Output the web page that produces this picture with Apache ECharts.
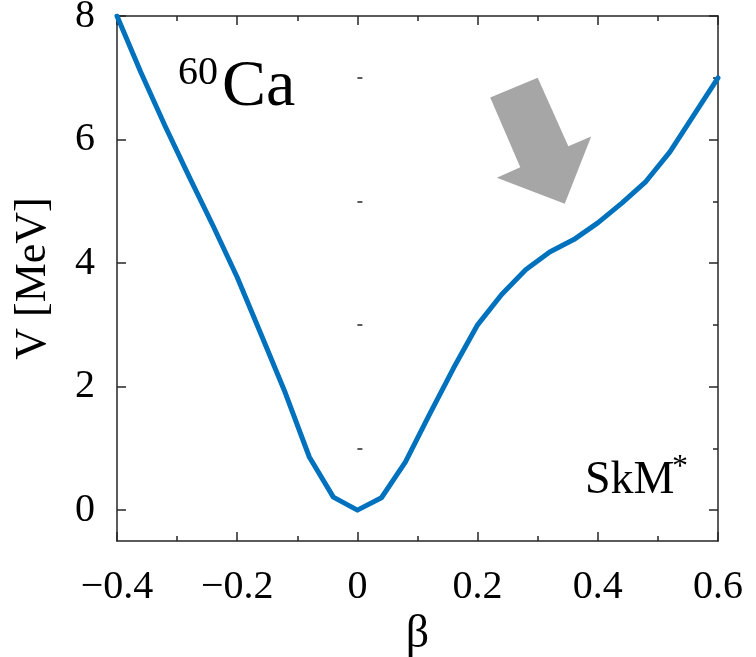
<!DOCTYPE html>
<html>
<head>
<meta charset="utf-8">
<script src="https://cdn.jsdelivr.net/npm/echarts@6/dist/echarts.min.js"></script>
<style>
  html, body { margin: 0; padding: 0; background: #fff; }
  #chart { width: 756px; height: 657px; }
</style>
</head>
<body>
<div id="chart"></div>
<script>
// Deformation energy curve of 60Ca (SkM*)
const beta = [-0.40, -0.36, -0.32, -0.28, -0.24, -0.20, -0.16, -0.12, -0.08, -0.04,
              0.00, 0.04, 0.08, 0.12, 0.16, 0.20, 0.24, 0.28, 0.32, 0.36,
              0.40, 0.44, 0.48, 0.52, 0.56, 0.60];
const energy = [8.00, 7.08, 6.22, 5.40, 4.60, 3.77, 2.84, 1.90, 0.86, 0.21,
                0.00, 0.20, 0.78, 1.55, 2.30, 3.00, 3.49, 3.89, 4.18, 4.38,
                4.65, 4.97, 5.32, 5.80, 6.40, 7.00];

const yMajorTicks = [0, 2, 4, 6, 8];
const yMinorTicks = [1, 3, 5, 7];

// Block arrow pointing at the shoulder, vertices in (beta, V) coordinates
const arrowBeta = [0.221, 0.300, 0.351, 0.389, 0.345, 0.232, 0.271];
const arrowV    = [6.68, 7.00, 5.89, 6.05, 4.96, 5.38, 5.55];

const serif = '"Liberation Serif", "Times New Roman", serif';
const ink = '#000';
const frame = '#262626';

const chart = echarts.init(document.getElementById('chart'), null, { renderer: 'canvas' });

const gridBox = { left: 117, right: 38, top: 16, bottom: 116, containLabel: false, outerBoundsMode: 'none' };

function xTickLabel(v) {
  if (Math.abs(v) < 1e-9) return '0';
  return (v < 0 ? '\u2212' : '') + Math.abs(v).toFixed(1);
}

const xCommon = {
  type: 'value', min: -0.4, max: 0.6, interval: 0.2,
  splitLine: { show: false },
  axisLine: { show: true, onZero: false, lineStyle: { color: frame, width: 1.5 } },
  axisTick: { show: true, inside: true, length: 9, lineStyle: { color: frame, width: 1.5 } },
  minorTick: { show: true, splitNumber: 2, length: 5, lineStyle: { color: frame, width: 1.5 } }
};

const yCommon = {
  type: 'value', min: -0.5, max: 8,
  splitLine: { show: false }
};

chart.setOption({
  backgroundColor: '#fff',
  animation: false,
  grid: [gridBox, Object.assign({}, gridBox)],
  xAxis: [
    Object.assign({}, xCommon, {
      gridIndex: 0, position: 'bottom',
      axisLabel: { show: true, formatter: xTickLabel, fontFamily: serif, fontSize: 40, color: ink, margin: 26 },
      name: 'β', nameLocation: 'middle', nameGap: 58,
      nameTextStyle: { fontFamily: serif, fontSize: 46, color: ink }
    }),
    Object.assign({}, xCommon, {
      gridIndex: 0, position: 'top',
      axisLabel: { show: false }
    }),
    { type: 'value', gridIndex: 1, min: -0.4, max: 0.6, show: false }
  ],
  yAxis: [
    Object.assign({}, yCommon, {
      gridIndex: 0, position: 'left',
      axisLine: { show: true, onZero: false, lineStyle: { color: frame, width: 1.5 } },
      axisTick: { show: true, inside: true, length: 9, customValues: yMajorTicks, lineStyle: { color: frame, width: 1.5 } },
      axisLabel: { show: true, customValues: yMajorTicks, fontFamily: serif, fontSize: 40, color: ink, margin: 22 },
      name: 'V [MeV]', nameLocation: 'middle', nameGap: 62, nameRotate: 90,
      nameTextStyle: { fontFamily: serif, fontSize: 44, color: ink }
    }),
    Object.assign({}, yCommon, {
      gridIndex: 0, position: 'right',
      axisLine: { show: true, onZero: false, lineStyle: { color: frame, width: 1.5 } },
      axisTick: { show: true, inside: true, length: 9, customValues: yMajorTicks, lineStyle: { color: frame, width: 1.5 } },
      axisLabel: { show: false }
    }),
    Object.assign({}, yCommon, {
      gridIndex: 1, position: 'left',
      axisLine: { show: false },
      axisTick: { show: true, inside: true, length: 5, customValues: yMinorTicks, lineStyle: { color: frame, width: 1.5 } },
      axisLabel: { show: false }
    }),
    Object.assign({}, yCommon, {
      gridIndex: 1, position: 'right',
      axisLine: { show: false },
      axisTick: { show: true, inside: true, length: 5, customValues: yMinorTicks, lineStyle: { color: frame, width: 1.5 } },
      axisLabel: { show: false }
    })
  ],
  series: [
    {
      type: 'custom',
      xAxisIndex: 0, yAxisIndex: 0,
      silent: true,
      data: [[arrowBeta[0], arrowV[0]]],
      renderItem: function (params, api) {
        const pts = arrowBeta.map(function (b, i) { return api.coord([b, arrowV[i]]); });
        return { type: 'polygon', shape: { points: pts }, style: { fill: '#a6a6a6', stroke: null } };
      },
      z: 1
    },
    {
      type: 'line',
      xAxisIndex: 0, yAxisIndex: 0,
      data: beta.map(function (b, i) { return [b, energy[i]]; }),
      showSymbol: false,
      lineStyle: { color: '#0072BD', width: 5, join: 'round', cap: 'round' },
      z: 3
    }
  ],
  graphic: [
    { type: 'text', left: 178, top: 53, style: { text: '60', font: '40px "Liberation Serif"', fill: ink } },
    { type: 'text', left: 222, top: 55, style: { text: 'Ca', font: '66px "Liberation Serif"', fill: ink } },
    { type: 'text', left: 585, top: 458, style: { text: 'SkM', font: '46px "Liberation Serif"', fill: ink } },
    { type: 'text', left: 672, top: 452, style: { text: '*', font: '32px "Liberation Serif"', fill: ink } }
  ]
});
</script>
</body>
</html>
